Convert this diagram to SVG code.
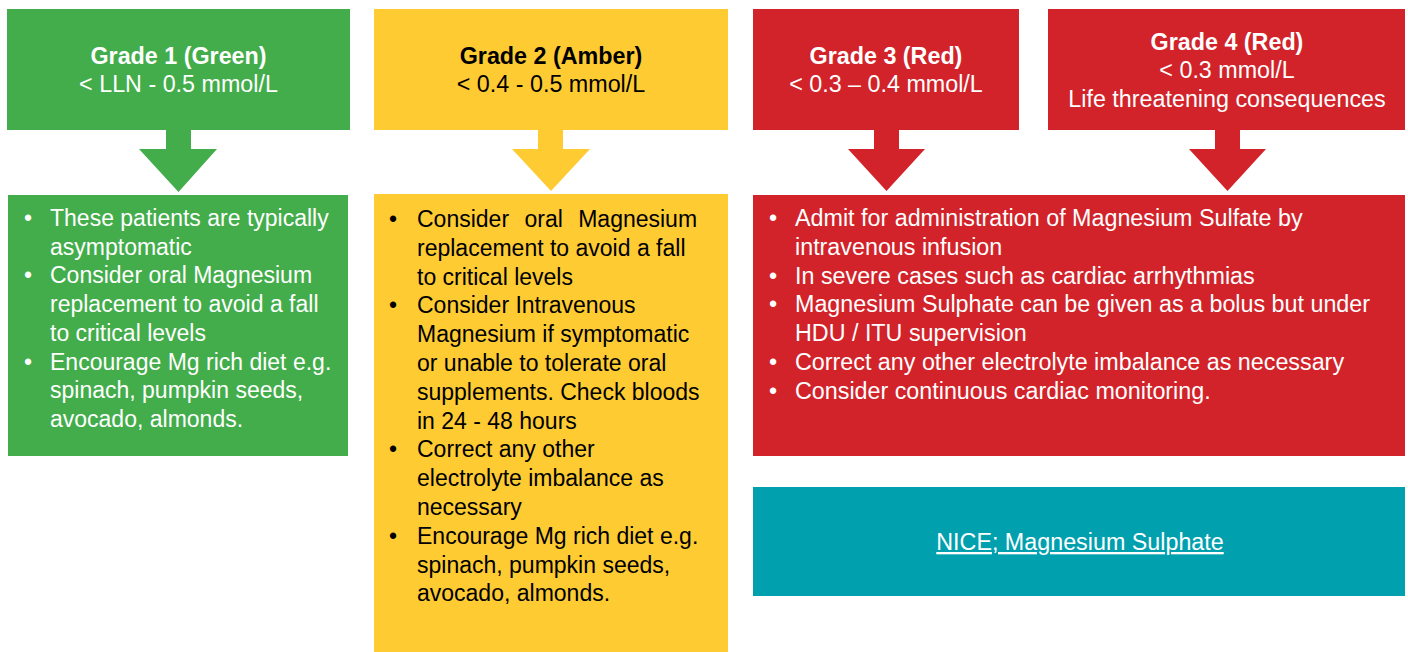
<svg xmlns="http://www.w3.org/2000/svg" width="1408" height="652" viewBox="0 0 1408 652">
<style>
text{font-family:"Liberation Sans",Arial,sans-serif;font-size:23.3px}
.body{font-size:23px}
.w{fill:#ffffff}
.k{fill:#000000}
.b{font-weight:bold}
.c{text-anchor:middle}
.bl{text-anchor:middle}
.g{fill:#42ad4a}
.a{fill:#fecb33}
.r{fill:#d2232a}
.t{fill:#00a0ae}
</style>
<rect width="1408" height="652" fill="#ffffff"/>
<g id="grade1-header">
<rect class="g" x="7" y="9" width="343" height="121"/>
<text class="w b c" x="178.5" y="64">Grade 1 (Green)</text>
<text class="w c" x="178.5" y="92">&lt; LLN - 0.5 mmol/L</text>
</g>
<g id="grade2-header">
<rect class="a" x="374" y="9" width="354" height="121"/>
<text class="k b c" x="551" y="64">Grade 2 (Amber)</text>
<text class="k c" x="551" y="92">&lt; 0.4 - 0.5 mmol/L</text>
</g>
<g id="grade3-header">
<rect class="r" x="753" y="9" width="266" height="121"/>
<text class="w b c" x="886" y="64">Grade 3 (Red)</text>
<text class="w c" x="886" y="92">&lt; 0.3 – 0.4 mmol/L</text>
</g>
<g id="grade4-header">
<rect class="r" x="1048" y="9" width="357" height="121"/>
<text class="w b c" x="1227" y="50">Grade 4 (Red)</text>
<text class="w c" x="1227" y="78">&lt; 0.3 mmol/L</text>
<text class="w c" x="1227" y="107">Life threatening consequences</text>
</g>
<g id="connectors">
<polygon class="g" points="166,130 191,130 191,149 217,149 178.5,192 139,149 166,149"/>
<polygon class="a" points="538,130 563,130 563,149 590,149 551,191 512,149 538,149"/>
<polygon class="r" points="874,130 899,130 899,149 925,149 886.5,191 848,149 874,149"/>
<polygon class="r" points="1215,130 1240,130 1240,149 1266,149 1227.5,191 1189,149 1215,149"/>
</g>
<g id="grade1-body">
<rect class="g" x="8" y="195" width="340" height="261"/>
<text class="w bl body" x="28" y="226">•</text>
<text class="w bl body" x="28" y="283.4">•</text>
<text class="w bl body" x="28" y="369.5">•</text>
<text class="w body">
<tspan x="50" y="226">These patients are typically</tspan>
<tspan x="50" y="254.7">asymptomatic</tspan>
<tspan x="50" y="283.4">Consider oral Magnesium</tspan>
<tspan x="50" y="312.1">replacement to avoid a fall</tspan>
<tspan x="50" y="340.8">to critical levels</tspan>
<tspan x="50" y="369.5">Encourage Mg rich diet e.g.</tspan>
<tspan x="50" y="398.2">spinach, pumpkin seeds,</tspan>
<tspan x="50" y="426.9">avocado, almonds.</tspan>
</text>
</g>
<g id="grade2-body">
<rect class="a" x="374" y="194" width="354" height="458"/>
<text class="k bl body" x="393" y="227">•</text>
<text class="k bl body" x="393" y="313.4">•</text>
<text class="k bl body" x="393" y="457.4">•</text>
<text class="k bl body" x="393" y="543.8">•</text>
<text class="k body">
<tspan x="417" y="227" word-spacing="9">Consider oral Magnesium</tspan>
<tspan x="417" y="255.8">replacement to avoid a fall</tspan>
<tspan x="417" y="284.6">to critical levels</tspan>
<tspan x="417" y="313.4">Consider Intravenous</tspan>
<tspan x="417" y="342.2">Magnesium if symptomatic</tspan>
<tspan x="417" y="371">or unable to tolerate oral</tspan>
<tspan x="417" y="399.8">supplements. Check bloods</tspan>
<tspan x="417" y="428.6">in 24 - 48 hours</tspan>
<tspan x="417" y="457.4">Correct any other</tspan>
<tspan x="417" y="486.2">electrolyte imbalance as</tspan>
<tspan x="417" y="515">necessary</tspan>
<tspan x="417" y="543.8">Encourage Mg rich diet e.g.</tspan>
<tspan x="417" y="572.6">spinach, pumpkin seeds,</tspan>
<tspan x="417" y="601.4">avocado, almonds.</tspan>
</text>
</g>
<g id="grade34-body">
<rect class="r" x="753" y="195" width="652" height="261"/>
<text class="w bl" x="773" y="226">•</text>
<text class="w bl" x="773" y="283.6">•</text>
<text class="w bl" x="773" y="312.4">•</text>
<text class="w bl" x="773" y="370">•</text>
<text class="w bl" x="773" y="398.8">•</text>
<text class="w">
<tspan x="795" y="226">Admit for administration of Magnesium Sulfate by</tspan>
<tspan x="795" y="254.8">intravenous infusion</tspan>
<tspan x="795" y="283.6">In severe cases such as cardiac arrhythmias</tspan>
<tspan x="795" y="312.4">Magnesium Sulphate can be given as a bolus but under</tspan>
<tspan x="795" y="341.2">HDU / ITU supervision</tspan>
<tspan x="795" y="370">Correct any other electrolyte imbalance as necessary</tspan>
<tspan x="795" y="398.8">Consider continuous cardiac monitoring.</tspan>
</text>
</g>
<g id="nice-link">
<rect class="t" x="753" y="487" width="652" height="109"/>
<text class="w c" x="1080" y="550" text-decoration="underline">NICE; Magnesium Sulphate</text>
</g>
</svg>
